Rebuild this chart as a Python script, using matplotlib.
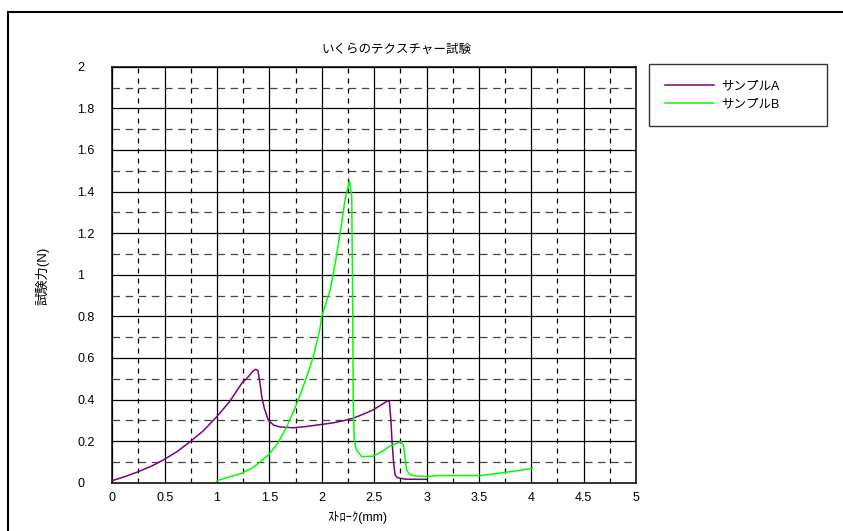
import matplotlib
matplotlib.use('Agg')
import matplotlib.pyplot as plt
from matplotlib.patches import Rectangle
from matplotlib.ticker import MultipleLocator

plt.rcParams['font.family'] = ['Liberation Sans', 'Noto Sans CJK JP', 'DejaVu Sans']

# sample A (purple)
a_x = [0.0, 0.125, 0.248, 0.375, 0.487, 0.62, 0.742, 0.87, 0.997, 1.12, 1.236, 1.30, 1.34, 1.37,
       1.39, 1.41, 1.427, 1.45, 1.49, 1.54, 1.60, 1.73, 1.85, 1.98, 2.10, 2.20, 2.30, 2.40, 2.49,
       2.57, 2.63, 2.645, 2.66, 2.67, 2.685, 2.70, 2.72, 2.75, 2.80, 3.0]
a_y = [0.01, 0.03, 0.053, 0.08, 0.109, 0.15, 0.197, 0.25, 0.317, 0.39, 0.478, 0.51, 0.535, 0.545,
       0.54, 0.48, 0.413, 0.36, 0.30, 0.277, 0.268, 0.264, 0.27, 0.279, 0.287, 0.297, 0.31, 0.33, 0.35,
       0.375, 0.394, 0.39, 0.30, 0.205, 0.10, 0.037, 0.025, 0.021, 0.017, 0.016]

# sample B (green)
b_x = [1.0, 1.1, 1.236, 1.35, 1.49, 1.58, 1.666, 1.72, 1.777, 1.85, 1.92, 1.98, 2.0, 2.08, 2.13,
       2.175, 2.222, 2.264, 2.286, 2.296, 2.30, 2.31, 2.33, 2.38, 2.49, 2.557, 2.65, 2.72, 2.755,
       2.78, 2.795, 2.81, 2.84, 2.875, 3.0, 3.1, 3.51, 3.73, 3.9, 4.01]
b_y = [0.01, 0.025, 0.045, 0.075, 0.133, 0.19, 0.27, 0.33, 0.40, 0.50, 0.606, 0.734, 0.80, 0.926, 1.06,
       1.2, 1.36, 1.452, 1.375, 0.8, 0.4, 0.205, 0.16, 0.125, 0.128, 0.144, 0.176, 0.19, 0.197,
       0.181, 0.12, 0.061, 0.04, 0.034, 0.029, 0.034, 0.034, 0.048, 0.06, 0.069]

labels = ['サンプルA', 'サンプルB']
colors = ['#800080', '#00ff00']

fig = plt.figure(figsize=(8.43, 5.31), dpi=100)
W, H = 843, 531
ax = fig.add_axes([112.3 / W, 1 - 482.7 / H, (636 - 112.3) / W, (482.7 - 66.7) / H])

ax.plot(a_x, a_y, color=colors[0], lw=1.1, label=labels[0], zorder=3)
ax.plot(b_x, b_y, color=colors[1], lw=1.1, label=labels[1], zorder=3)

ax.set_xlim(0, 5)
ax.set_ylim(0, 2)
ax.xaxis.set_major_locator(MultipleLocator(0.5))
ax.xaxis.set_minor_locator(MultipleLocator(0.25))
ax.yaxis.set_major_locator(MultipleLocator(0.2))
ax.yaxis.set_minor_locator(MultipleLocator(0.1))
ax.xaxis.set_major_formatter(lambda v, p: f'{v:g}')
ax.yaxis.set_major_formatter(lambda v, p: f'{v:g}')

ax.grid(which='major', color='black', lw=0.9, zorder=1)
ax.grid(which='minor', axis='x', color='black', lw=0.9, linestyle=(0, (4, 4)))
ax.grid(which='minor', axis='y', color='#444444', lw=0.9, linestyle=(0, (6, 4.5)))
ax.set_axisbelow(True)

ax.tick_params(which='both', length=0)
ax.tick_params(axis='x', labelsize=9, pad=7)
ax.tick_params(axis='y', labelsize=9, pad=25.4)
for t in ax.get_yticklabels():
    t.set_horizontalalignment('left')
for s in ax.spines.values():
    s.set_linewidth(1.1)

fig.text(396 / W, 1 - 50 / H, 'いくらのテクスチャー試験', ha='center', va='center', fontsize=9)
fig.text(357 / W, 1 - 518 / H, 'ｽﾄﾛｰｸ(mm)', ha='center', va='center', fontsize=9)
fig.text(42 / W, 1 - 276 / H, '試験力(N)', ha='center', va='center', fontsize=9.5, rotation=90)

leg = fig.legend(loc='upper left', bbox_to_anchor=(649 / W, 1 - 64 / H - 0.01, 178 / W, 0.01),
                 mode='expand', borderaxespad=0, fontsize=9, frameon=True, fancybox=False,
                 handlelength=3.9, handletextpad=0.6, borderpad=1.3, labelspacing=0.45)
leg.get_frame().set_edgecolor('black')
leg.get_frame().set_linewidth(1.0)

fig.add_artist(Rectangle((8.3 / W, -0.1), 1.2, 1.1 - 12.3 / H, transform=fig.transFigure,
                         fill=False, lw=1.5, edgecolor='black'))

fig.savefig('out.png', dpi=100)
